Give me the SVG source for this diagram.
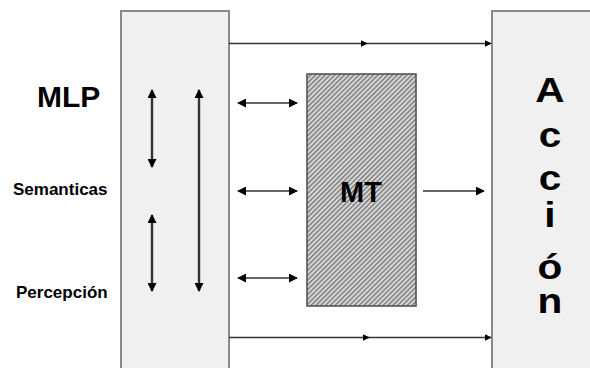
<svg xmlns="http://www.w3.org/2000/svg" width="590" height="368" viewBox="0 0 590 368">
  <style>
    .panel { fill: #f0f0f0; stroke: #8a8a8a; stroke-width: 2; }
    .wire { fill: none; stroke: #333; stroke-width: 1.6; }
    .vert { fill: none; stroke: #333; stroke-width: 2.4; }
    .lbl { font-family: "Liberation Sans", Arial, sans-serif; font-weight: bold; fill: #000; }
  </style>
  <defs>
    <marker id="head" viewBox="0 0 10 10" refX="9" refY="5" markerWidth="7" markerHeight="7" markerUnits="userSpaceOnUse" orient="auto-start-reverse">
      <path d="M0,0 L10,5 L0,10 Z" fill="#000"/>
    </marker>
    <marker id="headL" viewBox="0 0 10 10" refX="9" refY="5" markerWidth="9" markerHeight="9" markerUnits="userSpaceOnUse" orient="auto-start-reverse">
      <path d="M0,0 L10,5 L0,10 Z" fill="#000"/>
    </marker>
    <marker id="headV" viewBox="0 0 10 10" refX="9" refY="5" markerWidth="10" markerHeight="9" markerUnits="userSpaceOnUse" orient="auto-start-reverse">
      <path d="M0,0 L10,5 L0,10 Z" fill="#000"/>
    </marker>
    <pattern id="hatch" width="3.4" height="3.4" patternUnits="userSpaceOnUse" patternTransform="rotate(45)">
      <rect width="3.4" height="3.4" fill="#d8d8d8"/>
      <rect width="1.4" height="3.4" fill="#7a7a7a"/>
    </pattern>
  </defs>

  <!-- left panel: MLP -->
  <g id="mlp">
    <rect class="panel" x="121" y="11" width="108" height="370"/>
    <text class="lbl" x="37" y="107" font-size="30">MLP</text>
    <text class="lbl" x="13" y="195" font-size="17">Semanticas</text>
    <text class="lbl" x="16" y="298" font-size="17">Percepción</text>
  </g>

  <!-- right panel: Acción, one letter per line -->
  <g id="accion">
    <rect class="panel" x="492" y="11" width="110" height="370"/>
    <g class="lbl" font-size="35" text-anchor="middle" transform="translate(550,0) scale(1.16,1)">
      <text x="0" y="102">A</text>
      <text x="0" y="147">c</text>
      <text x="0" y="190">c</text>
      <text x="0" y="227">i</text>
      <text x="0" y="279">ó</text>
      <text x="0" y="313">n</text>
    </g>
  </g>

  <!-- central block: MT -->
  <g id="mt">
    <rect x="307" y="74" width="109" height="232" fill="url(#hatch)" stroke="#555" stroke-width="1.6"/>
    <text class="lbl" x="361" y="202" font-size="29" text-anchor="middle">MT</text>
  </g>

  <!-- connectors -->
  <g id="connectors">
    <!-- top and bottom feed lines -->
    <path class="wire" d="M229,43.5 L367,43.5 L491,43.5" marker-mid="url(#head)" marker-end="url(#head)"/>
    <path class="wire" d="M229,337.5 L369,337.5 L491,337.5" marker-mid="url(#head)" marker-end="url(#head)"/>
    <!-- MLP <-> MT exchanges -->
    <path class="wire" d="M238,103 L297,103" marker-start="url(#headL)" marker-end="url(#headL)"/>
    <path class="wire" d="M238,191 L297,191" marker-start="url(#headL)" marker-end="url(#headL)"/>
    <path class="wire" d="M238,278 L297,278" marker-start="url(#headL)" marker-end="url(#headL)"/>
    <!-- MT -> Acción -->
    <path class="wire" d="M423,191 L484,191" marker-end="url(#headL)"/>
    <!-- vertical flows inside MLP -->
    <path class="vert" d="M152,90 L152,167" marker-start="url(#headV)" marker-end="url(#headV)"/>
    <path class="vert" d="M152,215 L152,291" marker-start="url(#headV)" marker-end="url(#headV)"/>
    <path class="vert" d="M199,90 L199,291" marker-start="url(#headV)" marker-end="url(#headV)"/>
  </g>
</svg>
